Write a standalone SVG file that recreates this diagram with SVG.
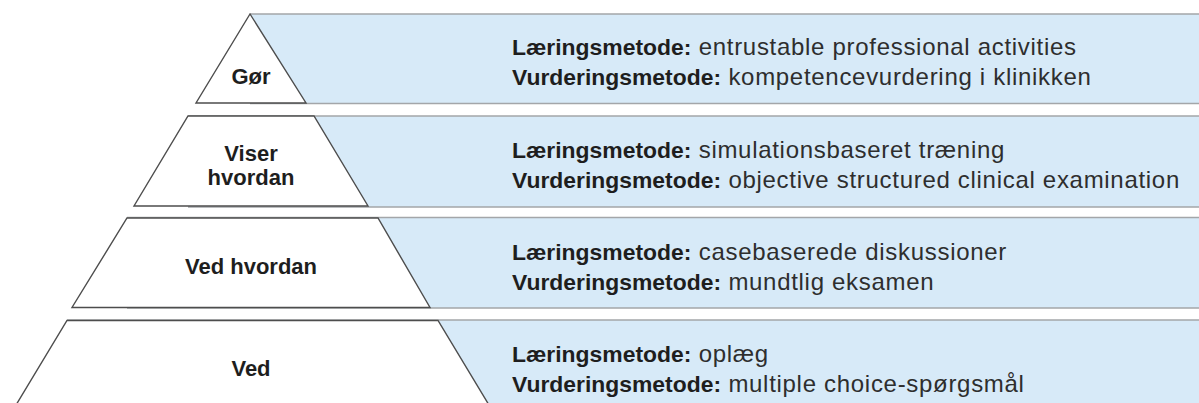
<svg xmlns="http://www.w3.org/2000/svg" width="1199" height="403" viewBox="0 0 1199 403">
<style>
.band{fill:#d7eaf8;stroke:none}
.rule{stroke:#a3a6a9;stroke-width:1.6}
.tier{fill:#ffffff;stroke:#4d4d4d;stroke-width:1.4;stroke-linejoin:miter}
.lbl{font-family:"Liberation Sans",Arial,sans-serif;font-weight:bold;font-size:22px;fill:#1e1e1e;text-anchor:middle}
.desc{font-family:"Liberation Sans",Arial,sans-serif;font-size:24px;letter-spacing:0.7px;fill:#2e2e2e}
.desc .b{font-weight:bold;font-size:22.9px;letter-spacing:0;fill:#1e1e1e}
</style>
<rect width="1199" height="403" fill="#ffffff"/>
<g id="row-gor">
<rect class="band" x="250" y="14" width="949" height="89"/>
<line class="rule" x1="250" y1="14" x2="1199" y2="14"/>
<line class="rule" x1="250" y1="103.5" x2="1199" y2="103.5"/>
<polygon class="tier" points="250,14 306,103 196,103"/>
<text class="lbl" x="251" y="84">Gør</text>
<text class="desc" x="512" y="55"><tspan class="b">Læringsmetode:</tspan> entrustable professional activities</text>
<text class="desc" x="512" y="85"><tspan class="b">Vurderingsmetode:</tspan> kompetencevurdering i klinikken</text>
</g>
<g id="row-viser">
<rect class="band" x="188" y="116" width="1011" height="91"/>
<line class="rule" x1="188" y1="116" x2="1199" y2="116"/>
<line class="rule" x1="188" y1="207" x2="1199" y2="207"/>
<polygon class="tier" points="188,116 314,116 368,206 134,206"/>
<text class="lbl" x="251" y="161">Viser</text>
<text class="lbl" x="251" y="185">hvordan</text>
<text class="desc" x="512" y="158"><tspan class="b">Læringsmetode:</tspan> simulationsbaseret træning</text>
<text class="desc" x="512" y="188"><tspan class="b">Vurderingsmetode:</tspan> objective structured clinical examination</text>
</g>
<g id="row-ved-hvordan">
<rect class="band" x="127" y="218" width="1072" height="90"/>
<line class="rule" x1="127" y1="217.5" x2="1199" y2="217.5"/>
<line class="rule" x1="127" y1="308" x2="1199" y2="308"/>
<polygon class="tier" points="127,218 378,218 430,307.5 72,307.5"/>
<text class="lbl" x="251" y="274">Ved hvordan</text>
<text class="desc" x="512" y="260"><tspan class="b">Læringsmetode:</tspan> casebaserede diskussioner</text>
<text class="desc" x="512" y="290"><tspan class="b">Vurderingsmetode:</tspan> mundtlig eksamen</text>
</g>
<g id="row-ved">
<rect class="band" x="67" y="320" width="1132" height="90"/>
<line class="rule" x1="67" y1="320" x2="1199" y2="320"/>
<polygon class="tier" points="67,320.5 438,320.5 492,410 13,410"/>
<text class="lbl" x="251" y="376">Ved</text>
<text class="desc" x="512" y="362"><tspan class="b">Læringsmetode:</tspan> oplæg</text>
<text class="desc" x="512" y="392"><tspan class="b">Vurderingsmetode:</tspan> multiple choice-spørgsmål</text>
</g>
<g id="connectors"></g>
</svg>
